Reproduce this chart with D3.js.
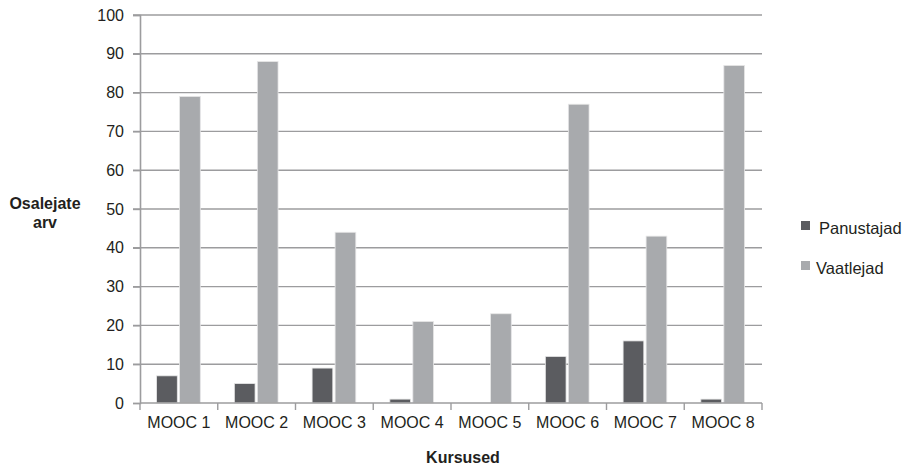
<!DOCTYPE html>
<html>
<head>
<meta charset="utf-8">
<script src="https://cdn.jsdelivr.net/npm/d3@7"></script>
<style>
  html, body { margin: 0; padding: 0; background: #fff; }
  svg text { font-family: "Liberation Sans", Arial, sans-serif; fill: #231f20; }
</style>
</head>
<body>
<svg id="chart" width="905" height="466"></svg>
<script>
// Courses and participant counts per group
const categories = ["MOOC 1", "MOOC 2", "MOOC 3", "MOOC 4", "MOOC 5", "MOOC 6", "MOOC 7", "MOOC 8"];
const seriesNames = ["Panustajad", "Vaatlejad"];
const panustajad = [7, 5, 9, 1, 0, 12, 16, 1];
const vaatlejad = [79, 88, 44, 21, 23, 77, 43, 87];
const yTicks = [0, 10, 20, 30, 40, 50, 60, 70, 80, 90, 100];
const colors = ["#5b5c60", "#a8aaad"];

const seriesValues = [panustajad, vaatlejad];
const rows = categories.map((c, i) => ({
  category: c,
  values: seriesNames.map((s, j) => ({ series: s, value: seriesValues[j][i], color: colors[j] }))
}));

const svg = d3.select("#chart");
const plot = { left: 140, right: 762, top: 15, bottom: 403 };

const x = d3.scaleBand().domain(categories).range([plot.left, plot.right]).padding(0);
const xInner = d3.scaleBand().domain(seriesNames).range([16.6, 60.3]).paddingInner(0.1).paddingOuter(0);
const y = d3.scaleLinear().domain([0, 100]).range([plot.bottom, plot.top]);

const axisColor = "#9c9c9e";
const labelFont = "Liberation Sans, Arial, sans-serif";

// Horizontal gridlines
svg.append("g")
  .selectAll("line")
  .data(yTicks.filter(t => t > 0))
  .join("line")
  .attr("x1", plot.left - 7)
  .attr("x2", plot.right)
  .attr("y1", d => y(d))
  .attr("y2", d => y(d))
  .attr("stroke", axisColor)
  .attr("stroke-width", 1.4);

// Y axis
const yAxis = svg.append("g")
  .attr("transform", `translate(${plot.left},0)`)
  .call(d3.axisLeft(y).tickValues(yTicks).tickSize(7).tickPadding(9));
yAxis.select(".domain").attr("stroke", axisColor).attr("stroke-width", 1.6);
yAxis.selectAll(".tick line").attr("stroke", axisColor).attr("stroke-width", 1.4);
yAxis.selectAll(".tick text")
  .attr("font-size", 16)
  .attr("font-family", labelFont)
  .attr("fill", "#231f20");

// Bars
const groups = svg.append("g")
  .selectAll("g")
  .data(rows)
  .join("g")
  .attr("transform", d => `translate(${x(d.category)},0)`);

groups.selectAll("rect")
  .data(d => d.values)
  .join("rect")
  .attr("x", d => xInner(d.series))
  .attr("width", xInner.bandwidth())
  .attr("y", d => y(d.value))
  .attr("height", d => y(0) - y(d.value))
  .attr("fill", d => d.color)
  .attr("stroke", "#e6e6e7")
  .attr("stroke-width", 0.8);

// X axis
const xAxis = svg.append("g")
  .attr("transform", `translate(0,${plot.bottom})`)
  .call(d3.axisBottom(x).tickSize(0).tickPadding(13.5));
xAxis.select(".domain").remove();
xAxis.append("line")
  .attr("x1", plot.left).attr("x2", plot.right)
  .attr("stroke", axisColor).attr("stroke-width", 1.6);
xAxis.selectAll(".tick text")
  .attr("font-size", 16)
  .attr("font-family", labelFont)
  .attr("fill", "#231f20");
// Category boundary ticks
xAxis.append("g")
  .selectAll("line")
  .data(categories.map(c => x(c)).concat([plot.right]))
  .join("line")
  .attr("x1", d => d).attr("x2", d => d)
  .attr("y1", 0).attr("y2", 7)
  .attr("stroke", axisColor).attr("stroke-width", 1.4);

// Axis titles
const yTitle = svg.append("text")
  .attr("text-anchor", "middle")
  .attr("font-size", 16)
  .attr("font-weight", "bold");
yTitle.append("tspan").attr("x", 45).attr("y", 209).text("Osalejate");
yTitle.append("tspan").attr("x", 45).attr("y", 228).text("arv");

svg.append("text")
  .attr("x", 463)
  .attr("y", 463)
  .attr("text-anchor", "middle")
  .attr("font-size", 16)
  .attr("font-weight", "bold")
  .text("Kursused");

// Legend
const legendItems = [
  { name: seriesNames[0], color: colors[0], sx: 801, sy: 221, tx: 819, ty: 234 },
  { name: seriesNames[1], color: colors[1], sx: 801, sy: 261, tx: 816, ty: 274 }
];
const legend = svg.append("g");
legend.selectAll("rect")
  .data(legendItems)
  .join("rect")
  .attr("x", d => d.sx).attr("y", d => d.sy)
  .attr("width", 9).attr("height", 9)
  .attr("fill", d => d.color);
legend.selectAll("text")
  .data(legendItems)
  .join("text")
  .attr("x", d => d.tx).attr("y", d => d.ty)
  .attr("font-size", 16.5)
  .text(d => d.name);
</script>
</body>
</html>
